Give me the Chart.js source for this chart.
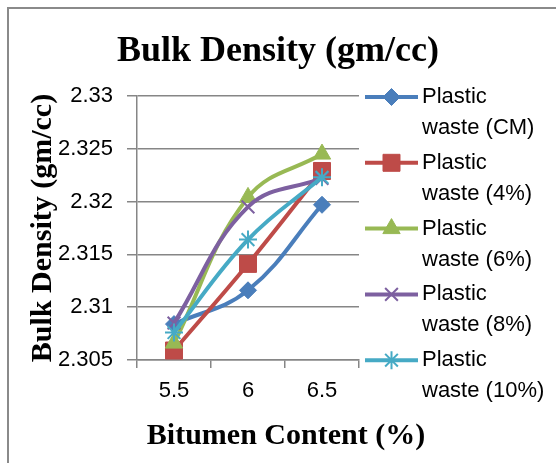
<!DOCTYPE html>
<html>
<head>
<meta charset="utf-8">
<script src="https://cdn.jsdelivr.net/npm/chart.js@4/dist/chart.umd.min.js"></script>
<style>
  html, body { margin: 0; padding: 0; background: #fff; }
  #wrap { position: relative; width: 556px; height: 463px; }
</style>
</head>
<body>
<div id="wrap"><canvas id="c" width="556" height="463"></canvas></div>
<script>
// Bitumen content (%) on the x axis
const categories = ['5.5', '6', '6.5'];

// Bulk density (gm/cc) for each mix
const wasteCM  = [2.3084, 2.3116, 2.3197];
const waste4   = [2.3059, 2.3141, 2.3229];
const waste6   = [2.3066, 2.3204, 2.3245];
const waste8   = [2.3085, 2.3195, 2.3222];
const waste10  = [2.3076, 2.3164, 2.3223];

const seriesNames = [
  ['Plastic', 'waste (CM)'],
  ['Plastic', 'waste (4%)'],
  ['Plastic', 'waste (6%)'],
  ['Plastic', 'waste (8%)'],
  ['Plastic', 'waste (10%)']
];

const yTicks = [2.305, 2.31, 2.315, 2.32, 2.325, 2.33];

const SANS = '"Liberation Sans", Arial, sans-serif';
const SERIF = '"Liberation Serif", "Times New Roman", serif';
const GRID = '#868686';

const styles = [
  { color: '#4A7EBB', pointStyle: 'rectRot',  radius: 8.5, borderWidth: 1 },
  { color: '#BE4B48', pointStyle: 'rect',     radius: 12,  borderWidth: 1 },
  { color: '#98B954', pointStyle: 'triangle', radius: 10,  borderWidth: 1 },
  { color: '#7D60A0', pointStyle: 'crossRot', radius: 9,   borderWidth: 2 },
  { color: '#46AAC5', pointStyle: 'star',     radius: 9,   borderWidth: 2 }
];
const values = [wasteCM, waste4, waste6, waste8, waste10];

const datasets = values.map((v, i) => ({
  label: seriesNames[i].join(' '),
  data: v,
  borderColor: styles[i].color,
  backgroundColor: styles[i].color,
  borderWidth: 4,
  tension: 0.4,
  pointStyle: styles[i].pointStyle,
  pointRadius: styles[i].radius,
  pointBorderWidth: styles[i].borderWidth,
  pointBackgroundColor: styles[i].color,
  pointBorderColor: styles[i].color,
  clip: false,
  order: values.length - i
}));

// White background and the frame's left/top edges
const frame = {
  id: 'frame',
  beforeDraw(chart) {
    const ctx = chart.ctx;
    ctx.save();
    ctx.fillStyle = '#fff';
    ctx.fillRect(0, 0, chart.width, chart.height);
    ctx.strokeStyle = '#8a8a8a';
    ctx.lineWidth = 2;
    ctx.beginPath();
    ctx.moveTo(8, chart.height + 5);
    ctx.lineTo(8, 8);
    ctx.lineTo(chart.width + 5, 8);
    ctx.stroke();
    ctx.restore();
  }
};

// Chart title and horizontal axis title
const titles = {
  id: 'titles',
  afterDraw(chart) {
    const ctx = chart.ctx;
    ctx.save();
    ctx.fillStyle = '#000';
    ctx.textAlign = 'center';
    ctx.textBaseline = 'alphabetic';
    ctx.font = 'bold 36px ' + SERIF;
    ctx.fillText('Bulk Density (gm/cc)', chart.width / 2, 61);
    ctx.textBaseline = 'middle';
    ctx.font = 'bold 30px ' + SERIF;
    ctx.fillText('Bitumen Content (%)', chart.width / 2 + 8, chart.chartArea.bottom + 76);
    ctx.restore();
  }
};

// Series key on the right with line sample and marker
const sideLegend = {
  id: 'sideLegend',
  afterDraw(chart) {
    const ctx = chart.ctx;
    const area = chart.chartArea;
    const x0 = area.right + 6;
    const x1 = x0 + 53;
    const tx = x1 + 4;
    const step = 65.8;
    ctx.save();
    ctx.font = '22px ' + SANS;
    ctx.textBaseline = 'middle';
    ctx.textAlign = 'left';
    seriesNames.forEach((name, i) => {
      const y = area.top + 1 + i * step;
      const s = styles[i];
      ctx.strokeStyle = s.color;
      ctx.fillStyle = s.color;
      ctx.lineWidth = 4;
      ctx.beginPath();
      ctx.moveTo(x0, y);
      ctx.lineTo(x1, y);
      ctx.stroke();
      ctx.lineWidth = s.borderWidth;
      Chart.helpers.drawPoint(ctx, {
        pointStyle: s.pointStyle, radius: s.radius, rotation: 0, borderWidth: s.borderWidth
      }, (x0 + x1) / 2, y);
      ctx.fillStyle = '#000';
      ctx.fillText(name[0], tx, y);
      ctx.fillText(name[1], tx, y + 31);
    });
    ctx.restore();
  }
};

new Chart(document.getElementById('c'), {
  type: 'line',
  data: { labels: categories, datasets },
  plugins: [frame, titles, sideLegend],
  options: {
    responsive: false,
    animation: false,
    events: [],
    layout: { padding: { left: 28, right: 197, top: 96, bottom: 58 } },
    plugins: {
      legend: { display: false },
      tooltip: { enabled: false },
      title: { display: false }
    },
    scales: {
      x: {
        offset: true,
        afterFit(scale) { scale.height = 45; },
        grid: {
          offset: true,
          drawOnChartArea: false,
          drawTicks: true,
          tickLength: 8,
          color: GRID,
          lineWidth: 1.5
        },
        border: { display: true, color: GRID, width: 1.5 },
        ticks: {
          color: '#000',
          font: { family: SANS, size: 22 },
          padding: 10,
          maxRotation: 0
        }
      },
      y: {
        min: 2.305,
        max: 2.33,
        afterFit(scale) { scale.width = 109; },
        afterBuildTicks(scale) {
          scale.ticks = yTicks.map(v => ({ value: v }));
        },
        grid: {
          color: GRID,
          lineWidth: 1.5,
          drawTicks: true,
          tickLength: 10
        },
        border: { display: true, color: GRID, width: 1.5 },
        ticks: {
          color: '#000',
          font: { family: SANS, size: 22 },
          padding: 14,
          callback: v => String(v)
        },
        title: {
          display: true,
          text: 'Bulk Density (gm/cc)',
          color: '#000',
          font: { family: SERIF, size: 30, weight: 'bold', lineHeight: 1 },
          padding: 0
        }
      }
    }
  }
});
</script>
</body>
</html>
